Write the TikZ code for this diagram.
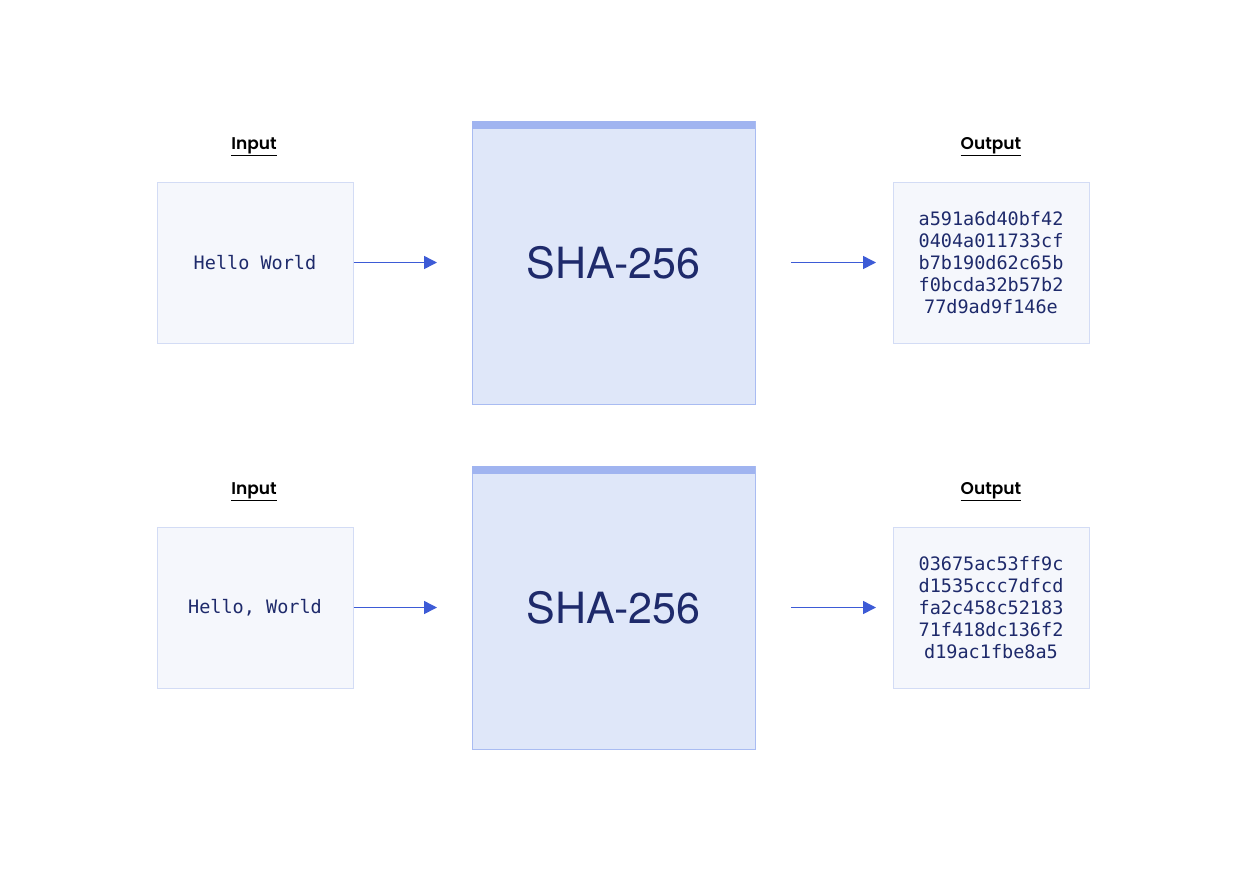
\documentclass[tikz,border=0pt]{standalone}
\usepackage{fontspec}
\setmainfont{TeX Gyre Heros}
\newfontfamily\hexfont{DejaVu Sans Mono}
\newfontfamily\labfont{Poppins}[UprightFont=* SemiBold,BoldFont=* Bold]
\usetikzlibrary{arrows.meta}
\definecolor{inbg}{HTML}{F5F7FC}
\definecolor{inbd}{HTML}{D3DCF5}
\definecolor{shabg}{HTML}{DFE7F9}
\definecolor{shabd}{HTML}{A9BCF2}
\definecolor{shabar}{HTML}{A0B4F0}
\definecolor{navy}{HTML}{1E2A6B}
\definecolor{arr}{HTML}{3D5BD6}
\tikzset{
  x=1pt,y=-1pt,
  iobox/.style={draw=inbd,fill=inbg,line width=1pt,minimum width=196pt,minimum height=161pt,inner sep=0pt,
    text=navy,font=\hexfont\fontsize{18.5}{22}\selectfont,align=center},
  shabox/.style={draw=shabd,fill=shabg,line width=1pt,minimum width=283pt,minimum height=283pt,inner sep=0pt,
    text=navy,font=\fontsize{43}{50}\selectfont},
  lab/.style={font=\labfont\fontsize{17}{20}\selectfont,text=black,inner sep=0pt},
  flow/.style={draw=arr,line width=1.5pt,-{Triangle[length=13pt,width=13pt]}},
}
\newcommand{\ul}[1]{\underline{#1}}
\begin{document}
\begin{tikzpicture}
\useasboundingbox (0,0) rectangle (1246,871);
% top row
\node[iobox] (in1) at (255,262.5) {Hello World};
\node[shabox] (sha1) at (613.5,262.5) {SHA-256};
\fill[shabar] ([shift={(0.5pt,-0.5pt)}]sha1.north west) rectangle ([shift={(-0.5pt,-8pt)}]sha1.north east);
\node[iobox] (out1) at (991,262.5) {a591a6d40bf42\\0404a011733cf\\b7b190d62c65b\\f0bcda32b57b2\\77d9ad9f146e};
\node[lab] (lin1) at (254,146.5) {\ul{Input}};
\node[lab] (lout1) at (991,146.5) {\ul{Output}};
\coordinate (a1e) at (437,262.5);
\coordinate (b1s) at (791,262.5);
\coordinate (b1e) at (876,262.5);
\draw[flow] (in1.east) -- (a1e);
\draw[flow] (b1s) -- (b1e);
% bottom row
\node[iobox] (in2) at (255,607.5) {Hello, World};
\node[shabox] (sha2) at (613.5,607.5) {SHA-256};
\fill[shabar] ([shift={(0.5pt,-0.5pt)}]sha2.north west) rectangle ([shift={(-0.5pt,-8pt)}]sha2.north east);
\node[iobox] (out2) at (991,607.5) {03675ac53ff9c\\d1535ccc7dfcd\\fa2c458c52183\\71f418dc136f2\\d19ac1fbe8a5};
\node[lab] (lin2) at (254,491.5) {\ul{Input}};
\node[lab] (lout2) at (991,491.5) {\ul{Output}};
\coordinate (a2e) at (437,607.5);
\coordinate (b2s) at (791,607.5);
\coordinate (b2e) at (876,607.5);
\draw[flow] (in2.east) -- (a2e);
\draw[flow] (b2s) -- (b2e);
\end{tikzpicture}
\end{document}
